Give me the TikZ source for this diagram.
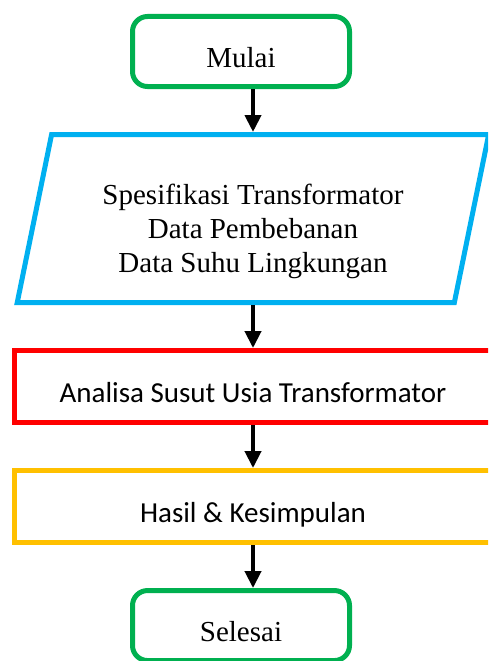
\documentclass[tikz,border=0pt]{standalone}
\usepackage{fontspec}
\setmainfont{Liberation Serif}
\newfontfamily\calibri{Carlito}
\usetikzlibrary{arrows.meta,positioning,shapes.geometric}

\definecolor{termgreen}{HTML}{00B050}
\definecolor{datablue}{HTML}{00B0F0}
\definecolor{procred}{HTML}{FF0000}
\definecolor{hasilyellow}{HTML}{FFC000}

\begin{document}
\begin{tikzpicture}[>={Triangle[width=16pt,length=17pt]},node distance=43pt,
  terminal/.style={rectangle, rounded corners=15pt, draw=termgreen, line width=5pt,
    minimum width=217pt, minimum height=70pt, font=\fontsize{29}{34}\selectfont,
    text height=32pt, text depth=0pt},
  data/.style={trapezium, trapezium left angle=77, trapezium right angle=103,
    trapezium stretches=true, draw=datablue, line width=5pt,
    minimum width=474pt, minimum height=168pt, align=center,
    font=\fontsize{29}{34}\selectfont, text height=107pt, text depth=0pt},
  process/.style={rectangle, line width=5pt, minimum width=477pt, minimum height=72pt,
    font=\calibri\fontsize{29}{34}\selectfont, text height=32pt, text depth=0pt}]

\useasboundingbox (0,0) rectangle (488pt,-661pt);
\clip (0,0) rectangle (488pt,-661pt);

\node[terminal] (mulai) at (241pt,-51.5pt) {Mulai};
\node[data] (input) [below=of mulai, xshift=12pt]
  {Spesifikasi Transformator\\Data Pembebanan\\Data Suhu Lingkungan};
\node[process, draw=procred] (analisa) [below=of input] {Analisa Susut Usia Transformator};
\node[process, draw=hasilyellow] (hasil) [below=of analisa] {Hasil \& Kesimpulan};
\node[terminal] (selesai) [below=of hasil, xshift=-12pt] {Selesai};

\path[->, line width=4pt]
  (mulai.south -| input.north) edge (input.north)
  (input.south) edge (analisa.north)
  (analisa.south) edge (hasil.north)
  (hasil.south) edge (hasil.south |- selesai.north);
\end{tikzpicture}
\end{document}
